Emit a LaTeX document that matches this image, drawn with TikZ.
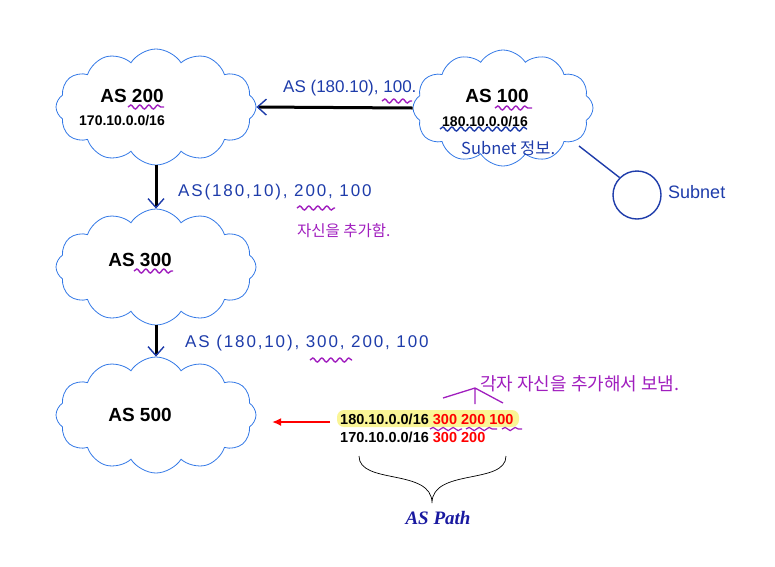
\documentclass[tikz,border=0pt]{standalone}
\usepackage{fontspec}
\setmainfont{Liberation Sans}
\newfontfamily\kr{Noto Sans CJK KR}
\newfontfamily\tms{Liberation Serif}
\usetikzlibrary{shapes.symbols,arrows.meta,decorations.pathmorphing}
\definecolor{cloudblue}{RGB}{50,120,230}
\definecolor{penblue}{RGB}{30,60,170}
\definecolor{penpurple}{RGB}{160,30,190}
\definecolor{hl}{RGB}{250,245,150}
\definecolor{pathblue}{RGB}{25,25,160}
\tikzset{
  ascloud/.style={cloud, cloud puffs=12, cloud puff arc=115, aspect=1.72,
    minimum width=200pt, minimum height=116pt, draw=cloudblue, line width=0.8pt, inner sep=0pt},
  astitle/.style={font=\fontsize{19}{22}\selectfont\bfseries, inner sep=0pt},
  asnet/.style={font=\fontsize{14}{16}\selectfont\bfseries, inner sep=0pt},
  hand/.style={text=penblue, font=\fontsize{17}{20}\selectfont, inner sep=0pt},
  handsp/.style={text=penblue, font=\fontsize{17}{20}\selectfont\addfontfeature{LetterSpace=11}, inner sep=0pt},
  handkr/.style={text=penpurple, font=\kr\fontsize{15.5}{18}\selectfont, inner sep=0pt},
  squig/.style={draw=penpurple, line width=1.4pt, decorate,
    decoration={snake, segment length=9pt, amplitude=2pt}},
  bsquig/.style={draw=penblue, line width=1.4pt, decorate,
    decoration={snake, segment length=9pt, amplitude=2pt}},
  conn/.style={draw=black, line width=3pt,
    -{Straight Barb[penblue, length=9pt, width=16pt, line width=1.4pt]}},
}
\begin{document}
\begin{tikzpicture}[x=1pt,y=-1pt]
\useasboundingbox (0,0) rectangle (775,566);
% clouds
\node[ascloud] (as200) at (156,107) {};
\node[ascloud, minimum width=180pt, aspect=1.55] (as100) at (503,108) {};
\node[ascloud] (as300) at (156,267) {};
\node[ascloud] (as500) at (156,415) {};
% cloud texts
\node[astitle] (t200) at (132,96) {AS 200};
\node[asnet] (n200) at (122,121) {170.10.0.0/16};
\node[astitle] (t100) at (497,96) {AS 100};
\node[asnet] (n100) at (485,122) {180.10.0.0/16};
\node[astitle] (t300) at (140,260) {AS 300};
\node[astitle] (t500) at (140,415) {AS 500};
% connectors
\draw[conn] (as100.west) -- (as200.east);
\draw[conn] (as200.south) -- (as300.north);
\draw[conn] (as300.south) -- (as500.north);
% subnet
\node[circle, draw=penblue, line width=1.4pt, minimum size=48pt, inner sep=0pt] (sub) at (637,195) {};
\coordinate (subend) at (579,146);
\draw[penblue, line width=1.4pt] (subend) -- (sub.135);
\node[hand, font=\fontsize{18}{20}\selectfont, anchor=west] (sublbl) at (668,192) {Subnet};
% handwritten labels
\node[hand, anchor=west] (l1) at (283,88) {AS (180.10), 100.};
\node[hand, text=penblue, font=\kr\fontsize{16.5}{18}\selectfont, anchor=west] (l1b) at (461,148) {Subnet 정보.};
\node[handsp, anchor=west] (l2) at (178,192) {AS(180,10), 200, 100};
\node[handkr, anchor=west] (l2b) at (297,231) {자신을 추가함.};
\node[handsp, anchor=west] (l3) at (185,343) {AS (180,10), 300, 200, 100};
\node[handkr, font=\kr\fontsize{18}{20}\selectfont, anchor=west] (l4) at (480,384) {각자 자신을 추가해서 보냄.};
% caret
\coordinate (c1) at (443,398);
\coordinate (c2) at (475,388);
\coordinate (c3) at (503,403);
\coordinate (c4) at (475,404);
\draw[penpurple, line width=1.3pt] (c1) -- (c2) -- (c3) (c2) -- (c4);
% squiggles
\draw[squig] (128,107) -- (164,107);
\draw[squig] (495,108) -- (532,108);
\draw[squig] (382,101) -- (412,101);
\draw[bsquig] (440,129) -- (527,129);
\draw[squig] (297,208) -- (335,208);
\draw[squig] (134,271) -- (173,271);
\draw[squig] (310,360) -- (352,360);
% table
\fill[hl, rounded corners=7pt] (337,410) rectangle (519,427);
\node[asnet, font=\fontsize{14.5}{16}\selectfont\bfseries, anchor=west] (r1) at (340,419) {180.10.0.0/16 \textcolor{red}{300 200 100}};
\node[asnet, font=\fontsize{14.5}{16}\selectfont\bfseries, anchor=west] (r2) at (340,437) {170.10.0.0/16 \textcolor{red}{300 200}};
\draw[squig, line width=1.2pt, decoration={snake, segment length=10pt, amplitude=1.6pt}] (430,429) -- (462,429);
\draw[squig, line width=1.2pt, decoration={snake, segment length=10pt, amplitude=1.6pt}] (466,429) -- (497,429);
\draw[squig, line width=1.2pt, decoration={snake, segment length=10pt, amplitude=1.6pt}] (502,429) -- (522,429);
\draw[red, line width=2pt, -{Latex[length=9pt, width=8pt]}] (r1.west) ++(-10,3) coordinate (ra) -- (272,422) coordinate (rb);
% brace
\coordinate (bl) at (359,456);
\coordinate (bm) at (432,503);
\coordinate (br) at (506,456);
\draw[black, line width=0.7pt] (bl) .. controls (359,485) and (432,468) .. (bm)
  (br) .. controls (506,485) and (432,468) .. (bm);
\node[text=pathblue, font=\tms\fontsize{19}{22}\selectfont\bfseries\itshape, inner sep=0pt] (aspath) at (438,518) {AS Path};
\end{tikzpicture}
\end{document}
